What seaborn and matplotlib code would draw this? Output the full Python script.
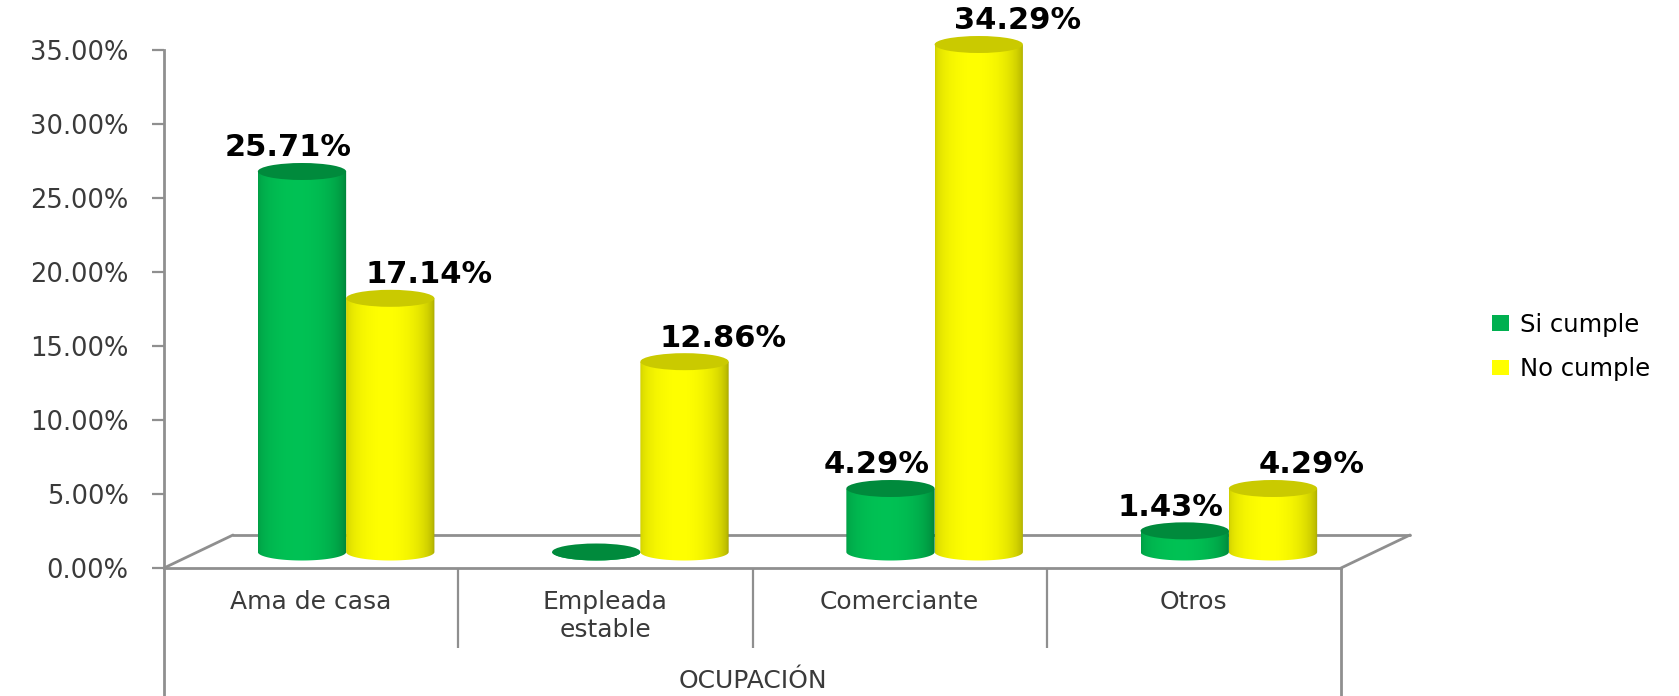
import numpy as np
import pandas as pd
import matplotlib
matplotlib.use("Agg")
import matplotlib.pyplot as plt
import seaborn as sns
from matplotlib.patches import Ellipse, PathPatch, Patch
from matplotlib.path import Path
from matplotlib.lines import Line2D
import matplotlib.ticker as mticker

# ---- data -----------------------------------------------------------------
categorias = ["Ama de casa", "Empleada\nestable", "Comerciante", "Otros"]
series = ["Si cumple", "No cumple"]
si_cumple = [25.71, 0.00, 4.29, 1.43]
no_cumple = [17.14, 12.86, 34.29, 4.29]
ticks_y = [0, 5, 10, 15, 20, 25, 30, 35]
titulo_x = "OCUPACIÓN"

df = pd.DataFrame({
    "Ocupación": categorias * 2,
    "Porcentaje": si_cumple + no_cumple,
    "Serie": [series[0]] * len(categorias) + [series[1]] * len(categorias),
})

# ---- style ----------------------------------------------------------------
sns.set_theme(style="white")
plt.rcParams["font.family"] = ["DejaVu Sans"]

VERDE = (0.0, 0.76, 0.33)
AMARILLO = (1.0, 1.0, 0.0)
TAPA = {0: "#008A3C", 1: "#CACA00"}
GRIS = "#8F8F8F"
TEXTO = "#3A3A3A"

W, H = 1679, 696
fig = plt.figure(figsize=(W / 100, H / 100), dpi=100)
fig.patch.set_facecolor("white")


def fx(px):
    return px / W


def fy(py):
    return 1 - py / H


# layout of the pseudo-3D box (pixels)
FRONT_Y, BACK_Y = 568, 535
LEFT_X, RIGHT_X = 164, 1341
DEPTH_X = 69
PX_PER_UNIT = 14.8          # pixels per percentage point
MID_DX, MID_DY = 35, 16     # bars stand halfway into the floor
BASE_Y = FRONT_Y - MID_DY
YMIN_BARS = -1.5

# ---- bars axis -------------------------------------------------------------
bx0 = LEFT_X + MID_DX
bx1 = RIGHT_X + MID_DX
bottom_px = BASE_Y - YMIN_BARS * PX_PER_UNIT
top_px = BASE_Y - 35 * PX_PER_UNIT
ax = fig.add_axes([fx(bx0), fy(bottom_px), fx(bx1) - fx(bx0), (bottom_px - top_px) / H])
ax.patch.set_alpha(0)

sns.barplot(data=df, x="Ocupación", y="Porcentaje", hue="Serie",
            order=categorias, hue_order=series, palette=[VERDE, AMARILLO],
            width=0.6, saturation=1, gap=0, legend=False, ax=ax)

ELL = 8.5 / PX_PER_UNIT     # half height of the ellipses, data units


def perfil(base, n=200):
    t = np.linspace(0, 1, n)
    s = 0.62 + 0.38 * np.sqrt(np.clip(1 - ((t - 0.45) / np.where(t < 0.45, 0.45, 0.55)) ** 2, 0, 1))
    s = np.where(t < 0.45, 0.80 + 0.20 * (s - 0.62) / 0.38, s)
    rgb = np.array(base)[None, :] * s[:, None]
    return np.clip(rgb[None, :, :], 0, 1)


for i, cont in enumerate(ax.containers):
    base = VERDE if i == 0 else AMARILLO
    grad = perfil(base)
    for bar in cont:
        x0, w, h = bar.get_x(), bar.get_width(), bar.get_height()
        xc = x0 + w / 2
        bar.set_alpha(0)
        # cylinder outline: straight sides, elliptical bottom
        t = np.linspace(np.pi, 2 * np.pi, 60)
        arc = np.column_stack([xc + (w / 2) * np.cos(t), ELL * np.sin(t)])
        verts = np.vstack([[x0, h], arc, [x0 + w, h], [x0, h]])
        codes = [Path.MOVETO] + [Path.LINETO] * (len(verts) - 2) + [Path.CLOSEPOLY]
        body = PathPatch(Path(verts, codes), transform=ax.transData,
                         facecolor="none", edgecolor="none")
        ax.add_patch(body)
        im = ax.imshow(grad, extent=[x0, x0 + w, -ELL, max(h, 0.01)],
                       aspect="auto", origin="lower", interpolation="bilinear",
                       zorder=2 + i)
        im.set_clip_path(body)
        ax.add_patch(Ellipse((xc, h), w, 2 * ELL, facecolor=TAPA[i],
                             edgecolor="none", zorder=2.5 + i))
        # value label (empty categories carry no label)
        if h > 0:
            dx = -10 if i == 0 else 28
            ax.annotate(f"{h:.2f}%", xy=(xc, h), xytext=(dx, 17),
                        textcoords="offset points", ha="center", va="center",
                        fontsize=22, fontweight="bold", color="black",
                        zorder=10, annotation_clip=False)

ax.set_xlim(-0.5, len(categorias) - 0.5)
ax.set_ylim(YMIN_BARS, 35)
ax.set_axis_off()

# ---- vertical value axis ----------------------------------------------------
ay = fig.add_axes([fx(LEFT_X), fy(H), 0.0005, (H - 50) / H])
ay.patch.set_alpha(0)
ay.set_ylim(-(H - FRONT_Y) / PX_PER_UNIT, 35)
ay.set_yticks(ticks_y)
ay.yaxis.set_major_formatter(mticker.FuncFormatter(lambda v, p: f"{v:.2f}%"))
ay.set_xticks([])
for side in ("top", "right", "bottom"):
    ay.spines[side].set_visible(False)
ay.spines["left"].set_color(GRIS)
ay.spines["left"].set_linewidth(2)
ay.tick_params(axis="y", direction="out", length=8.6, width=1.6, color=GRIS,
               labelsize=18.5, labelcolor=TEXTO, pad=17, left=True)

# ---- category axis on the front edge -----------------------------------------
axx = fig.add_axes([fx(LEFT_X), fy(FRONT_Y), fx(RIGHT_X) - fx(LEFT_X), 0.0005])
axx.patch.set_alpha(0)
axx.set_xlim(-0.5, len(categorias) - 0.5)
axx.set_xticks(range(len(categorias)))
axx.set_xticklabels(categorias)
axx.set_xticks([k + 0.5 for k in range(len(categorias) - 1)], minor=True)
axx.set_yticks([])
for side in ("top", "right", "left"):
    axx.spines[side].set_visible(False)
axx.spines["bottom"].set_color(GRIS)
axx.spines["bottom"].set_linewidth(2)
axx.tick_params(axis="x", which="major", length=0, pad=16, labelsize=18,
                labelcolor=TEXTO, bottom=True)
axx.tick_params(axis="x", which="minor", direction="out", length=57.6,
                width=1.6, color=GRIS, bottom=True)
axx.set_xlabel(titulo_x, fontsize=18, color=TEXTO, labelpad=12)

# ---- floor outline ----------------------------------------------------------
floor = [
    ((LEFT_X + DEPTH_X, BACK_Y), (RIGHT_X + DEPTH_X, BACK_Y)),
    ((LEFT_X, FRONT_Y), (LEFT_X + DEPTH_X, BACK_Y)),
    ((RIGHT_X, FRONT_Y), (RIGHT_X + DEPTH_X, BACK_Y)),
    ((RIGHT_X, FRONT_Y), (RIGHT_X, H)),
]
for (xa, ya), (xb, yb) in floor:
    fig.add_artist(Line2D([fx(xa), fx(xb)], [fy(ya), fy(yb)],
                          transform=fig.transFigure, color=GRIS, lw=2,
                          zorder=-1))

# ---- legend -------------------------------------------------------------------
handles = [Patch(facecolor=c, edgecolor="none", label=s)
           for c, s in zip(["#00B050", "#FFFF00"], series)]
fig.legend(handles=handles, loc="center left",
           bbox_to_anchor=(fx(1492), fy(347)), frameon=False,
           fontsize=17.5, handlelength=0.7, handleheight=0.6,
           handletextpad=0.45, labelspacing=0.85, borderpad=0,
           borderaxespad=0, labelcolor="black")

fig.savefig("out.png", dpi=100, facecolor="white")
